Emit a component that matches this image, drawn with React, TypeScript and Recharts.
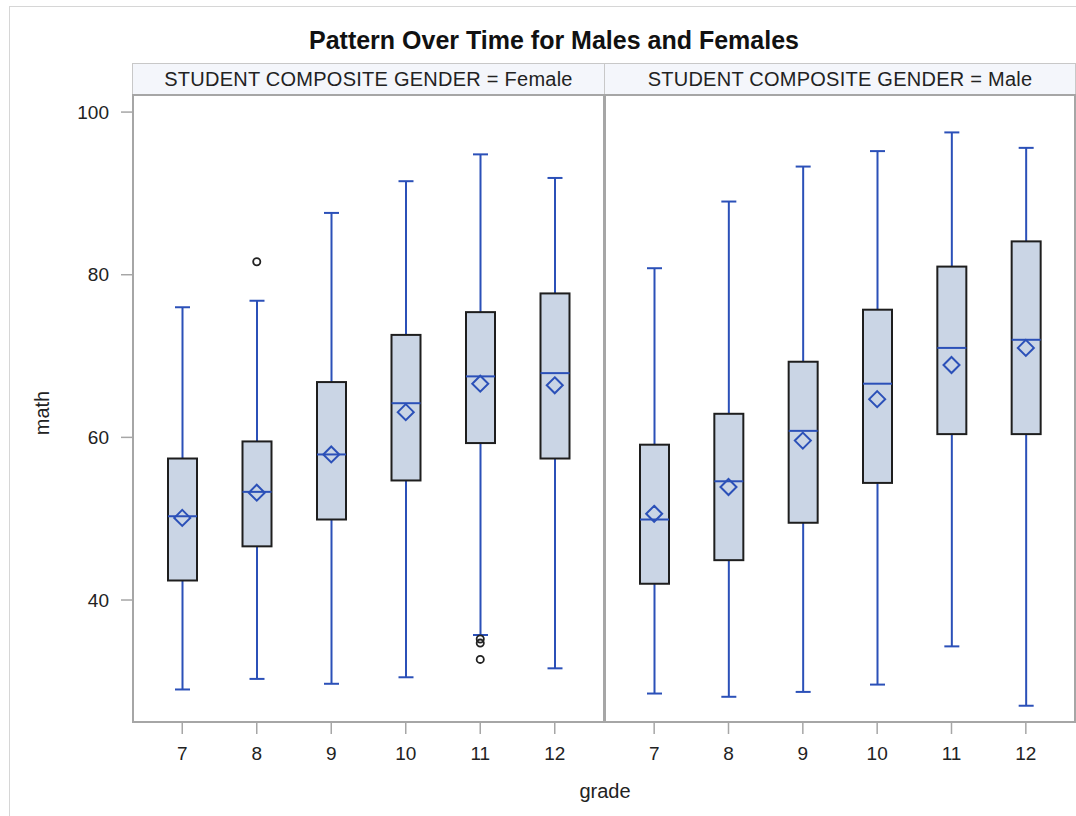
import React from 'react';
import { ComposedChart, Bar, Scatter, XAxis, YAxis } from 'recharts';

const grades = ['7', '8', '9', '10', '11', '12'];

const femaleMin = [29.0, 30.3, 29.7, 30.5, 35.7, 31.6];
const femaleQ1 = [42.4, 46.6, 49.9, 54.7, 59.3, 57.4];
const femaleMedian = [50.3, 53.3, 57.9, 64.2, 67.5, 67.9];
const femaleQ3 = [57.4, 59.5, 66.8, 72.6, 75.4, 77.7];
const femaleMax = [76.0, 76.8, 87.6, 91.5, 94.8, 91.9];
const femaleMean = [50.1, 53.2, 57.9, 63.1, 66.6, 66.4];
const femaleOutliers = [[], [81.6], [], [], [35.2, 34.7, 32.7], []];

const maleMin = [28.5, 28.1, 28.7, 29.6, 34.3, 27.0];
const maleQ1 = [42.0, 44.9, 49.5, 54.4, 60.4, 60.4];
const maleMedian = [49.9, 54.6, 60.8, 66.6, 71.0, 72.0];
const maleQ3 = [59.1, 62.9, 69.3, 75.7, 81.0, 84.1];
const maleMax = [80.8, 89.0, 93.3, 95.2, 97.5, 95.6];
const maleMean = [50.6, 53.9, 59.6, 64.7, 68.9, 71.0];
const maleOutliers: number[][] = [[], [], [], [], [], []];

const yTicks = [40, 60, 80, 100];
const Y_DOMAIN: [number, number] = [25, 102.1];

const FONT = '"Liberation Sans", Arial, sans-serif';
const BLUE = '#2b50b8';
const BOX_FILL = '#cad5e5';
const FRAME = '#a6a6a6';

function buildRows(mn: number[], q1: number[], med: number[], q3: number[], mx: number[], mean: number[], out: number[][]) {
  return grades.map((g, i) => ({
    grade: g,
    min: mn[i],
    q1: q1[i],
    median: med[i],
    q3: q3[i],
    max: mx[i],
    mean: mean[i],
    o1: out[i][0] ?? null,
    o2: out[i][1] ?? null,
    o3: out[i][2] ?? null,
  }));
}

const femaleRows = buildRows(femaleMin, femaleQ1, femaleMedian, femaleQ3, femaleMax, femaleMean, femaleOutliers);
const maleRows = buildRows(maleMin, maleQ1, maleMedian, maleQ3, maleMax, maleMean, maleOutliers);

// box drawn inside the [min, max] range bar
const BoxShape = (props: any) => {
  const { x, y, width, height, payload } = props;
  if (!payload || height == null) return null;
  const top = Math.min(y, y + height);
  const h = Math.abs(height);
  const span = payload.max - payload.min;
  const py = (v: number) => top + ((payload.max - v) / span) * h;
  const cx = x + width / 2;
  const cap = 7.5;
  return (
    <g>
      <line x1={cx} x2={cx} y1={py(payload.max)} y2={py(payload.min)} stroke={BLUE} strokeWidth={2} />
      <line x1={cx - cap} x2={cx + cap} y1={py(payload.max)} y2={py(payload.max)} stroke={BLUE} strokeWidth={2} />
      <line x1={cx - cap} x2={cx + cap} y1={py(payload.min)} y2={py(payload.min)} stroke={BLUE} strokeWidth={2} />
      <rect x={x} y={py(payload.q3)} width={width} height={py(payload.q1) - py(payload.q3)} fill={BOX_FILL} stroke="#1e1e1e" strokeWidth={2} />
      <line x1={x} x2={x + width} y1={py(payload.median)} y2={py(payload.median)} stroke={BLUE} strokeWidth={2} />
    </g>
  );
};

const Diamond = (props: any) => {
  const { cx, cy } = props;
  if (cx == null || cy == null || isNaN(cy)) return null;
  const s = 8;
  return <polygon points={`${cx},${cy - s} ${cx + s},${cy} ${cx},${cy + s} ${cx - s},${cy}`} fill="none" stroke={BLUE} strokeWidth={2} />;
};

const outlierShape = (key: string) => (props: any) => {
  const { cx, cy, payload } = props;
  if (!payload || payload[key] == null || cy == null || isNaN(cy)) return null;
  return <circle cx={cx} cy={cy} r={3.6} fill="none" stroke="#222" strokeWidth={1.8} />;
};

function Panel({ rows, showY, left, width, pad }: { rows: any[]; showY: boolean; left: number; width: number; pad: number }) {
  return (
    <div style={{ position: 'absolute', left, top: 0 }}>
      <ComposedChart width={width} height={816} data={rows} margin={{ top: 95, right: 2, left: 0, bottom: 49 }}>
        <XAxis
          dataKey="grade"
          type="category"
          height={45}
          padding={{ left: pad, right: pad }}
          axisLine={false}
          tickLine={{ stroke: FRAME, strokeWidth: 1.5 }}
          tickSize={12}
          tickMargin={13}
          tick={{ fill: '#222', fontSize: 19, fontFamily: FONT }}
        />
        <YAxis
          type="number"
          domain={Y_DOMAIN}
          allowDataOverflow
          ticks={yTicks}
          hide={!showY}
          width={133}
          axisLine={false}
          tickLine={{ stroke: FRAME, strokeWidth: 1.5 }}
          tickSize={12}
          tickMargin={12}
          tick={{ fill: '#222', fontSize: 19, fontFamily: FONT }}
        />
        <Bar dataKey={(d: any) => [d.min, d.max]} barSize={29} shape={<BoxShape />} isAnimationActive={false} />
        <Scatter dataKey="mean" shape={<Diamond />} isAnimationActive={false} />
        <Scatter dataKey="o1" shape={outlierShape('o1')} isAnimationActive={false} />
        <Scatter dataKey="o2" shape={outlierShape('o2')} isAnimationActive={false} />
        <Scatter dataKey="o3" shape={outlierShape('o3')} isAnimationActive={false} />
      </ComposedChart>
    </div>
  );
}

const stripStyle: React.CSSProperties = {
  position: 'absolute',
  top: 63,
  height: 32,
  lineHeight: '31px',
  boxSizing: 'border-box',
  background: '#f4f6fb',
  border: '1px solid #c8c8c8',
  textAlign: 'center',
  fontSize: 20,
  letterSpacing: 0.25,
  color: '#222',
  fontFamily: FONT,
  whiteSpace: 'nowrap',
};

const frameStyle: React.CSSProperties = {
  position: 'absolute',
  top: 94,
  height: 629,
  boxSizing: 'border-box',
  border: `2px solid ${FRAME}`,
  pointerEvents: 'none',
};

export default function App() {
  return (
    <div style={{ position: 'absolute', left: 0, top: 0, width: 1076, height: 816, background: '#fff', overflow: 'hidden', fontFamily: FONT }}>
      <div style={{ position: 'absolute', left: 9, top: 6, width: 1100, height: 900, borderLeft: '1px solid #d6d6d6', borderTop: '1px solid #d6d6d6' }} />
      <div style={{ position: 'absolute', left: 0, width: 1108, top: 28, fontSize: 25, lineHeight: '25px', fontWeight: 'bold', textAlign: 'center', color: '#111' }}>
        Pattern Over Time for Males and Females
      </div>
      <div style={{ ...stripStyle, left: 132, width: 473 }}>STUDENT COMPOSITE GENDER = Female</div>
      <div style={{ ...stripStyle, left: 604, width: 472 }}>STUDENT COMPOSITE GENDER = Male</div>

      <Panel rows={femaleRows} showY left={0} width={606} pad={12} />
      <Panel rows={maleRows} showY={false} left={606} width={470} pad={11} />

      <div style={{ ...frameStyle, left: 132, width: 473 }} />
      <div style={{ ...frameStyle, left: 604, width: 472 }} />

      <div style={{ position: 'absolute', left: 42, top: 413, transform: 'translate(-50%, -50%) rotate(-90deg)', fontSize: 20, lineHeight: '20px', color: '#222' }}>
        math
      </div>
      <div style={{ position: 'absolute', left: 0, width: 1210, top: 781, fontSize: 20, lineHeight: '20px', textAlign: 'center', color: '#222' }}>
        grade
      </div>
    </div>
  );
}
